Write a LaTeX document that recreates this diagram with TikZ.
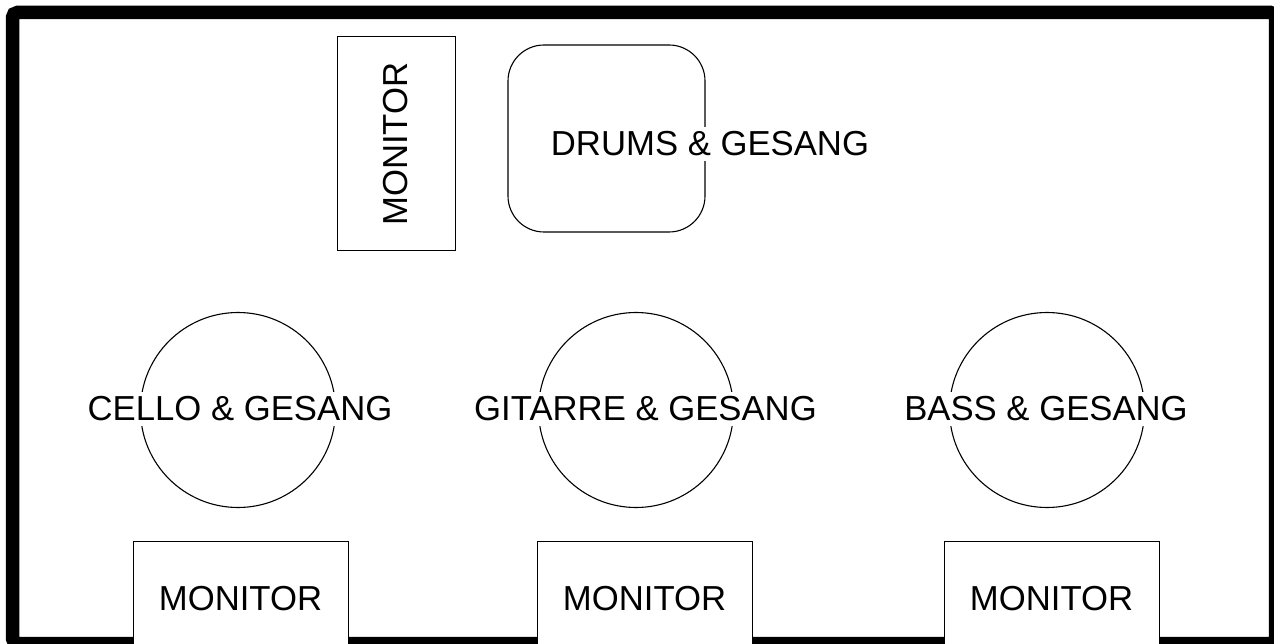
\documentclass[tikz,border=0pt]{standalone}
\usepackage{fontspec}
\setmainfont{Liberation Sans}
\usepackage{tikz}
\usetikzlibrary{calc,shapes}

\begin{document}
\begin{tikzpicture}[x=1pt, y=-1pt,
        stagefont/.style={font=\fontsize{34.7}{40}\selectfont},
        monbox/.style={draw, line width=1pt, fill=white, rectangle, inner sep=0pt, stagefont},
        player/.style={draw, line width=1.1pt, circle, minimum size=195pt, inner sep=0pt},
        drumbox/.style={draw, line width=1.1pt, rectangle, rounded corners=36pt, inner sep=0pt},
        caption/.style={fill=white, inner sep=5pt, stagefont}]
        \useasboundingbox (0, 0) rectangle (1274, 644);
        % stage
        \draw [line width=13.5pt, rounded corners=5pt] (12.5, 12.5) rectangle (1275.5, 643.5);
        % drums
        \node [drumbox, minimum width=197pt, minimum height=187pt] (drums) at (606.5, 138.5) {};
        \node [caption] (drumstxt) at (710, 144) {DRUMS \& GESANG};
        \node [monbox, rotate=90, minimum width=214pt, minimum height=118pt] (montop) at (396, 144) {MONITOR};
        % front line
        \node [player] (cello) at (238, 410) {};
        \node [caption] (cellotxt) at (240, 409) {CELLO \& GESANG};
        \node [player] (gitarre) at (636, 410) {};
        \node [caption] (gitarretxt) at (645.5, 409) {GITARRE \& GESANG};
        \node [player] (bass) at (1047, 410) {};
        \node [caption] (basstxt) at (1046, 409) {BASS \& GESANG};
        % monitors
        \node [monbox, minimum width=215pt, minimum height=116pt] (moncello) at (240.5, 599) {MONITOR};
        \node [monbox, minimum width=215pt, minimum height=116pt] (mongitarre) at (644.5, 599) {MONITOR};
        \node [monbox, minimum width=215pt, minimum height=116pt] (monbass) at (1051.5, 599) {MONITOR};
    \end{tikzpicture}
\end{document}
